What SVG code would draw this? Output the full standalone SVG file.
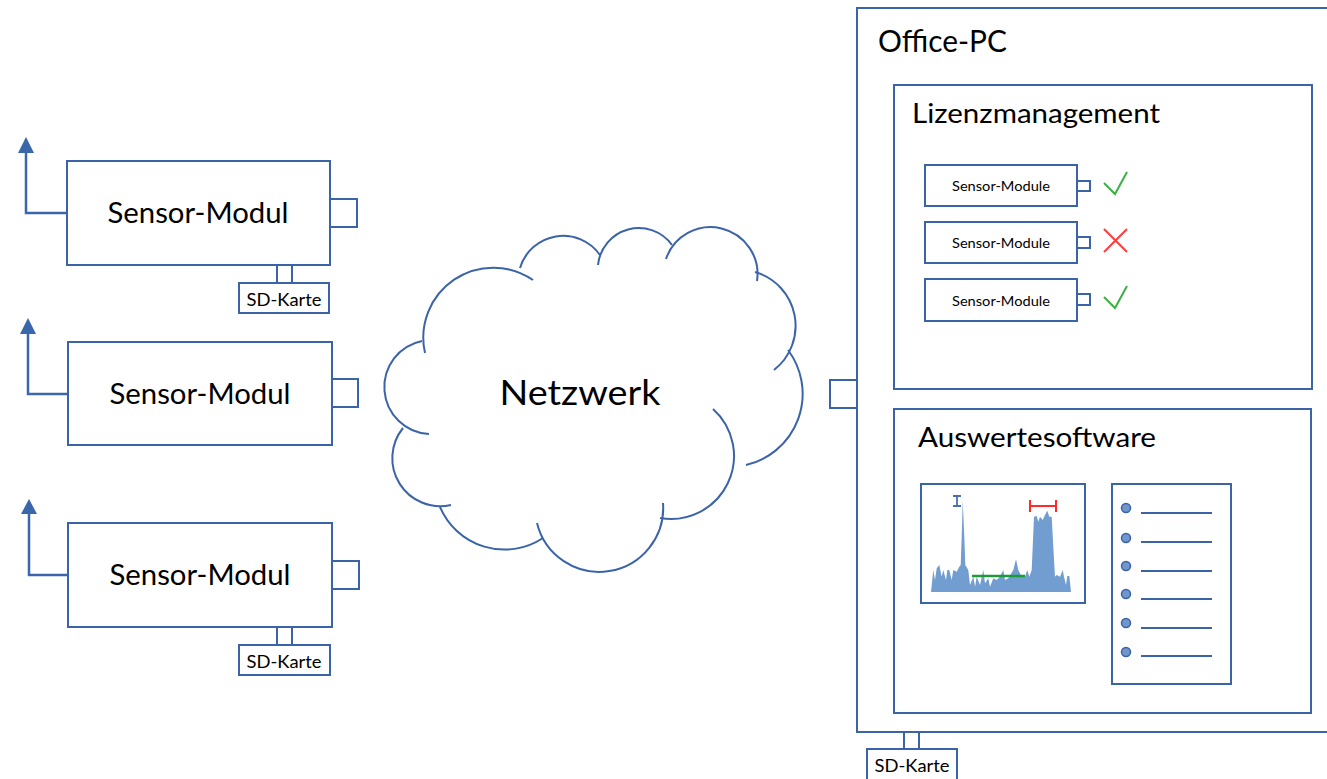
<svg xmlns="http://www.w3.org/2000/svg" width="1327" height="779" viewBox="0 0 1327 779">
<defs>
<style>
.box{fill:#fff;stroke:#3B64A8;stroke-width:2}
.t{font-family:Lato,"Open Sans","Liberation Sans",sans-serif;fill:#000}
.cloud{fill:none;stroke:#3B64A8;stroke-width:2}
.arr{fill:none;stroke:#3A67AB;stroke-width:2.5}
.lst{stroke:#3B64A8;stroke-width:2}
.dot{fill:#6F97CC;stroke:#3B64A8;stroke-width:1.5}
</style>
</defs>
<rect width="1327" height="779" fill="#fff"/>

<g id="connectors">
<path class="arr" d="M67,213 H26 V150"/>
<polygon points="26,137 18,153 34,153" fill="#3A67AB"/>
<path class="arr" d="M68,394 H28 V331"/>
<polygon points="28,318 20,334 36,334" fill="#3A67AB"/>
<path class="arr" d="M68,575 H29 V512"/>
<polygon points="29,499 21,514 37,514" fill="#3A67AB"/>
</g>

<g id="sensor1">
<rect class="box" x="67" y="161" width="263" height="104"/>
<rect class="box" x="330" y="199" width="27" height="28"/>
<rect class="box" x="277" y="265" width="15" height="18"/>
<rect class="box" x="239" y="283" width="90" height="30"/>
<text class="t" x="198" y="223" font-size="29" text-anchor="middle" textLength="181" lengthAdjust="spacingAndGlyphs">Sensor-Modul</text>
<text class="t" x="284" y="306" font-size="17.5" text-anchor="middle" textLength="75" lengthAdjust="spacingAndGlyphs">SD-Karte</text>
</g>
<g id="sensor2">
<rect class="box" x="68" y="342" width="264" height="103"/>
<rect class="box" x="332" y="379" width="26" height="28"/>
<text class="t" x="200" y="404" font-size="29" text-anchor="middle" textLength="181" lengthAdjust="spacingAndGlyphs">Sensor-Modul</text>
</g>
<g id="sensor3">
<rect class="box" x="68" y="523" width="264" height="104"/>
<rect class="box" x="332" y="561" width="27" height="28"/>
<rect class="box" x="277" y="627" width="15" height="18"/>
<rect class="box" x="239" y="645" width="91" height="30"/>
<text class="t" x="200" y="585" font-size="29" text-anchor="middle" textLength="181" lengthAdjust="spacingAndGlyphs">Sensor-Modul</text>
<text class="t" x="284" y="668" font-size="17.5" text-anchor="middle" textLength="75" lengthAdjust="spacingAndGlyphs">SD-Karte</text>
</g>

<g id="netzwerk">
<path class="cloud" d="M429,434 A47,47 0 0 1 422,341"/>
<path class="cloud" d="M425,353 A70,70 0 0 1 533,280"/>
<path class="cloud" d="M520,268 A45,45 0 0 1 600,255"/>
<path class="cloud" d="M598,265 A41,41 0 0 1 672,245"/>
<path class="cloud" d="M666,259 A47,47 0 0 1 757,281"/>
<path class="cloud" d="M755,272 A56,56 0 0 1 774,370"/>
<path class="cloud" d="M788,350 A73,73 0 0 1 746,465"/>
<path class="cloud" d="M713,409 A63,63 0 0 1 660,518"/>
<path class="cloud" d="M663,503 A64,64 0 0 1 537,523"/>
<path class="cloud" d="M543,538 A70,70 0 0 1 440,507"/>
<path class="cloud" d="M451,505 A48,48 0 0 1 403,428"/>
<text class="t" x="580" y="405" font-size="35" text-anchor="middle" textLength="161" lengthAdjust="spacingAndGlyphs">Netzwerk</text>
</g>

<g id="office-pc">
<rect class="box" x="857" y="8" width="480" height="724"/>
<rect class="box" x="830" y="380" width="27" height="28"/>
<rect class="box" x="904" y="732" width="15" height="17"/>
<rect class="box" x="867" y="749" width="90" height="32"/>
<text class="t" x="878" y="52" font-size="30" textLength="129" lengthAdjust="spacingAndGlyphs">Office-PC</text>
<text class="t" x="912" y="772" font-size="17.5" text-anchor="middle" textLength="75" lengthAdjust="spacingAndGlyphs">SD-Karte</text>
</g>

<g id="lizenzmanagement">
<rect class="box" x="894" y="85" width="418" height="304"/>
<text class="t" x="912" y="123" font-size="26" textLength="248" lengthAdjust="spacingAndGlyphs">Lizenzmanagement</text>
<rect class="box" x="925" y="165" width="152" height="41"/>
<rect class="box" x="1077" y="181" width="13" height="10"/>
<text class="t" x="1001" y="191" font-size="13" text-anchor="middle" textLength="98" lengthAdjust="spacingAndGlyphs">Sensor-Module</text>
<polyline points="1104,183 1115,194 1127,172" fill="none" stroke="#3CB043" stroke-width="2"/>
<rect class="box" x="925" y="222" width="152" height="41"/>
<rect class="box" x="1077" y="237" width="13" height="11"/>
<text class="t" x="1001" y="248" font-size="13" text-anchor="middle" textLength="98" lengthAdjust="spacingAndGlyphs">Sensor-Module</text>
<path d="M1104,229 L1127,252 M1127,229 L1104,252" stroke="#FF3B3B" stroke-width="2"/>
<rect class="box" x="925" y="279" width="152" height="42"/>
<rect class="box" x="1077" y="294" width="13" height="11"/>
<text class="t" x="1001" y="306" font-size="13" text-anchor="middle" textLength="98" lengthAdjust="spacingAndGlyphs">Sensor-Module</text>
<polyline points="1104,297 1115,308 1127,286" fill="none" stroke="#3CB043" stroke-width="2"/>
</g>

<g id="auswertesoftware">
<rect class="box" x="894" y="409" width="417" height="304"/>
<text class="t" x="918" y="447" font-size="26" textLength="238" lengthAdjust="spacingAndGlyphs">Auswertesoftware</text>
<rect class="box" x="921" y="484" width="164" height="119"/>
<polygon fill="#729DD0" points="931,592 933.3,570 935,580 936.7,568.3 939.3,565 941.7,576.7 943.3,570 946,580 947.3,570 949.3,570 951.7,580 953.3,570 956.7,571.7 959.3,566.7 960.7,565 961.7,536.7 962.7,500.7 964.3,536.7 965.3,565 968.3,570 970,585 973.3,576.7 975,586.7 976.7,576.7 980,585 983.3,570 985,583.3 988.3,578.3 990,586.7 993.3,578.3 996.7,580 1000,576.7 1003.3,570 1005,580 1008.3,578.3 1013.3,570 1016,559.3 1018.3,570 1021.7,576.7 1025,576.7 1027.3,570 1029.3,576.7 1031.7,570 1034,516.7 1036.7,516 1038.3,521.7 1040,516.7 1042.7,520 1045,515 1047.3,510.7 1049.3,516.7 1051.7,516.7 1053.3,546.7 1055,576.7 1056.7,575 1060,576.7 1062.7,570 1064,576.7 1066,585 1067.3,576 1069.3,576 1071,592"/>
<line x1="972" y1="576" x2="1025" y2="576" stroke="#1E9A3A" stroke-width="2.5"/>
<path d="M1030,506 H1056 M1030,500 V512 M1056,500 V512" stroke="#FF2A2A" stroke-width="2" fill="none"/>
<path d="M953,496 H961 M957,496 V506 M953,506 H961" stroke="#4A6FAA" stroke-width="1.8" fill="none"/>
<rect class="box" x="1112" y="484" width="119" height="200"/>
<circle class="dot" cx="1126" cy="508" r="4.5"/>
<circle class="dot" cx="1126" cy="538" r="4.5"/>
<circle class="dot" cx="1126" cy="566" r="4.5"/>
<circle class="dot" cx="1126" cy="594" r="4.5"/>
<circle class="dot" cx="1126" cy="623" r="4.5"/>
<circle class="dot" cx="1126" cy="652" r="4.5"/>
<line class="lst" x1="1141" y1="513" x2="1212" y2="513"/>
<line class="lst" x1="1141" y1="542" x2="1212" y2="542"/>
<line class="lst" x1="1141" y1="571" x2="1212" y2="571"/>
<line class="lst" x1="1141" y1="599" x2="1212" y2="599"/>
<line class="lst" x1="1141" y1="628" x2="1212" y2="628"/>
<line class="lst" x1="1141" y1="656" x2="1212" y2="656"/>
</g>
</svg>
